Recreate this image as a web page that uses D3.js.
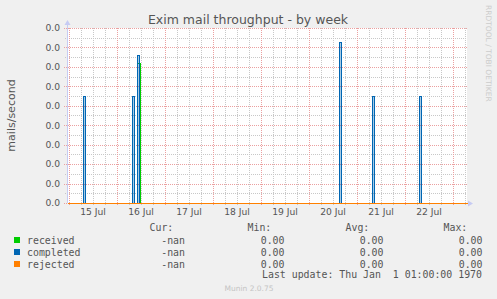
<!DOCTYPE html>
<html>
<head>
<meta charset="utf-8">
<script src="https://cdn.jsdelivr.net/npm/d3@7"></script>
<style>
  html, body { margin: 0; padding: 0; background: #f0f0f0; }
  svg { display: block; }
</style>
</head>
<body>
<svg id="chart" width="497" height="299"></svg>
<script>
// mails/second: [start, end, value]
var receivedPulses = [
    ["2024-07-16T10:00Z", "2024-07-16T11:30Z", 0.0072]
];
var completedPulses = [
    ["2024-07-15T07:00Z", "2024-07-15T08:00Z", 0.0055],
    ["2024-07-16T07:30Z", "2024-07-16T08:30Z", 0.0055],
    ["2024-07-16T10:00Z", "2024-07-16T11:00Z", 0.0076],
    ["2024-07-20T15:00Z", "2024-07-20T16:00Z", 0.0083],
    ["2024-07-21T07:30Z", "2024-07-21T08:30Z", 0.0055],
    ["2024-07-22T07:00Z", "2024-07-22T08:00Z", 0.0055]
];
var rejectedPulses = []; // flat zero all week

var timeRange = ["2024-07-14T23:00Z", "2024-07-23T07:00Z"];
var yTickValues = [0, 0.001, 0.002, 0.003, 0.004, 0.005, 0.006, 0.007, 0.008, 0.009];

var legendNames = ["received", "completed", "rejected"];
var legendColors = ["#00cc00", "#0066b3", "#ff8000"];
var fillOpacity = [0, 0.35, 0.35];
var legendCur = ["-nan", "-nan", "-nan"];
var legendMin = ["0.00", "0.00", "0.00"];
var legendAvg = ["0.00", "0.00", "0.00"];
var legendMax = ["0.00", "0.00", "0.00"];

var margin = { top: 28, left: 67 },
    width = 400,
    height = 175;

var svg = d3.select('#chart');
svg.append('rect').attr('width', 497).attr('height', 299).attr('fill', '#f0f0f0');

var xScale = d3.scaleUtc()
    .domain(timeRange.map(function (d) { return new Date(d); }))
    .range([0, width]);
var yScale = d3.scaleLinear()
    .domain([0, 0.009])
    .range([height, 0]);

var g = svg.append('g')
    .attr('transform', 'translate(' + margin.left + ',' + margin.top + ')');

// canvas
g.append('rect').attr('width', width).attr('height', height).attr('fill', '#ffffff');

// grid: minor first, major on top
var minorY = d3.range(0.0005, 0.009, 0.001);
var minorX = d3.utcHour.every(6).range(xScale.domain()[0], xScale.domain()[1]);
var majorX = d3.utcDay.range(xScale.domain()[0], xScale.domain()[1]);

var grid = g.append('g').attr('shape-rendering', 'crispEdges');
grid.selectAll('.minor-y').data(minorY).enter().append('line')
    .attr('x1', -2).attr('x2', width)
    .attr('y1', function (d) { return Math.round(yScale(d)) + 0.5; })
    .attr('y2', function (d) { return Math.round(yScale(d)) + 0.5; })
    .attr('stroke', '#c8c8c8').attr('stroke-dasharray', '1,1');
grid.selectAll('.minor-x').data(minorX).enter().append('line')
    .attr('x1', function (d) { return Math.round(xScale(d)) + 0.5; })
    .attr('x2', function (d) { return Math.round(xScale(d)) + 0.5; })
    .attr('y1', 0).attr('y2', height + 2)
    .attr('stroke', '#c8c8c8').attr('stroke-dasharray', '1,1');
grid.selectAll('.major-y').data(yTickValues).enter().append('line')
    .attr('x1', -3).attr('x2', width)
    .attr('y1', function (d) { return Math.round(yScale(d)) + 0.5; })
    .attr('y2', function (d) { return Math.round(yScale(d)) + 0.5; })
    .attr('stroke', '#eba0a0').attr('stroke-dasharray', '1,1');
grid.selectAll('.major-x').data(majorX).enter().append('line')
    .attr('x1', function (d) { return Math.round(xScale(d)) + 0.5; })
    .attr('x2', function (d) { return Math.round(xScale(d)) + 0.5; })
    .attr('y1', 0).attr('y2', height + 3)
    .attr('stroke', '#eba0a0').attr('stroke-dasharray', '1,1');

// axis labels
var fmtY = d3.format('.1f');
g.selectAll('.ylab').data(yTickValues).enter().append('text')
    .attr('x', -7)
    .attr('y', function (d) { return yScale(d); })
    .attr('dy', '0.36em')
    .attr('text-anchor', 'end')
    .attr('font-family', 'DejaVu Sans').attr('font-size', 9.2)
    .attr('fill', '#555')
    .text(function (d) { return fmtY(d); });

// day labels sit at noon, only where noon is on the chart
var fmtX = d3.utcFormat('%d %b');
var dayLabels = majorX.filter(function (d) {
    return d3.utcHour.offset(d, 12) < xScale.domain()[1];
});
g.selectAll('.xlab').data(dayLabels).enter().append('text')
    .attr('x', function (d) { return xScale(d3.utcHour.offset(d, 12)); })
    .attr('y', height + 12)
    .attr('text-anchor', 'middle')
    .attr('font-family', 'DejaVu Sans').attr('font-size', 9.2)
    .attr('fill', '#555')
    .text(function (d) { return fmtX(d); });

// series
function buildPoints(pulses) {
    var pts = [[xScale.domain()[0], 0]];
    pulses.forEach(function (p) {
        var t0 = new Date(p[0]), t1 = new Date(p[1]);
        pts.push([t0, 0], [t0, p[2]], [t1, p[2]], [t1, 0]);
    });
    pts.push([xScale.domain()[1], 0]);
    return pts;
}
var line = d3.line()
    .x(function (d) { return Math.round(xScale(d[0])); })
    .y(function (d) { return Math.round(yScale(d[1])); });
var area = d3.area()
    .x(function (d) { return Math.round(xScale(d[0])); })
    .y0(height)
    .y1(function (d) { return Math.round(yScale(d[1])); });

// half-pixel shift keeps 1px strokes on whole pixels
var series = g.append('g').attr('transform', 'translate(0.5,0.5)');
[receivedPulses, completedPulses, rejectedPulses].forEach(function (pulses, i) {
    var pts = buildPoints(pulses);
    series.append('path').attr('d', area(pts))
        .attr('fill', legendColors[i]).attr('fill-opacity', fillOpacity[i])
        .attr('transform', 'translate(0.5,0)');
    series.append('path').attr('d', line(pts))
        .attr('fill', 'none').attr('stroke', legendColors[i]).attr('stroke-width', 1)
        .attr('shape-rendering', 'crispEdges');
});

// axis lines and arrows
var axisColor = '#c6cbf3';
g.append('line').attr('x1', 0.5).attr('x2', 0.5).attr('y1', -4).attr('y2', height)
    .attr('stroke', axisColor);
g.append('path').attr('d', 'M-2.5,-3 L3.5,-3 L0.5,-8 Z').attr('fill', axisColor);
g.append('path').attr('d', 'M' + (width + 1) + ',' + (height - 2.5) + ' L' + (width + 1) + ',' + (height + 3.5) +
    ' L' + (width + 6) + ',' + (height + 0.5) + ' Z').attr('fill', axisColor);

// title and side texts
svg.append('text')
    .attr('x', 248).attr('y', 23.5)
    .attr('text-anchor', 'middle')
    .attr('font-family', 'DejaVu Sans').attr('font-size', 12.5)
    .attr('fill', '#555')
    .text('Exim mail throughput - by week');

svg.append('text')
    .attr('transform', 'translate(14.5,' + (margin.top + height / 2) + ') rotate(-90)')
    .attr('text-anchor', 'middle')
    .attr('font-family', 'DejaVu Sans').attr('font-size', 11)
    .attr('fill', '#555')
    .text('mails/second');

svg.append('text')
    .attr('transform', 'translate(486,5) rotate(90)')
    .attr('font-family', 'DejaVu Sans').attr('font-size', 7.5)
    .attr('fill', '#cccccc')
    .text('RRDTOOL / TOBI OETIKER');

// legend
var mono = 'DejaVu Sans Mono';
var lg = svg.append('g').attr('font-family', mono).attr('font-size', 9.9).attr('fill', '#555');
var headers = [['Cur:', 149.5], ['Min:', 247.5], ['Avg:', 345.5], ['Max:', 443.5]];
headers.forEach(function (h) {
    lg.append('text').attr('x', h[1]).attr('y', 231).text(h[0]);
});
var rowY = [240, 252, 264];
var cols = [[legendCur, 185], [legendMin, 284.5], [legendAvg, 383.5], [legendMax, 482.5]];
legendNames.forEach(function (name, i) {
    svg.append('rect')
        .attr('x', 14).attr('y', rowY[i] - 3).attr('width', 6).attr('height', 6)
        .attr('fill', legendColors[i]);
    lg.append('text').attr('x', 27).attr('y', rowY[i] + 3.5).text(name);
    cols.forEach(function (c) {
        lg.append('text').attr('x', c[1]).attr('y', rowY[i] + 3.5)
            .attr('text-anchor', 'end').text(c[0][i]);
    });
});
lg.append('text').attr('x', 262).attr('y', 278).attr('xml:space', 'preserve')
    .style('white-space', 'pre')
    .text('Last update: Thu Jan  1 01:00:00 1970');

svg.append('text')
    .attr('x', 249).attr('y', 291)
    .attr('text-anchor', 'middle')
    .attr('font-family', 'DejaVu Sans').attr('font-size', 7.5)
    .attr('fill', '#c4c4c4')
    .text('Munin 2.0.75');
</script>
</body>
</html>
